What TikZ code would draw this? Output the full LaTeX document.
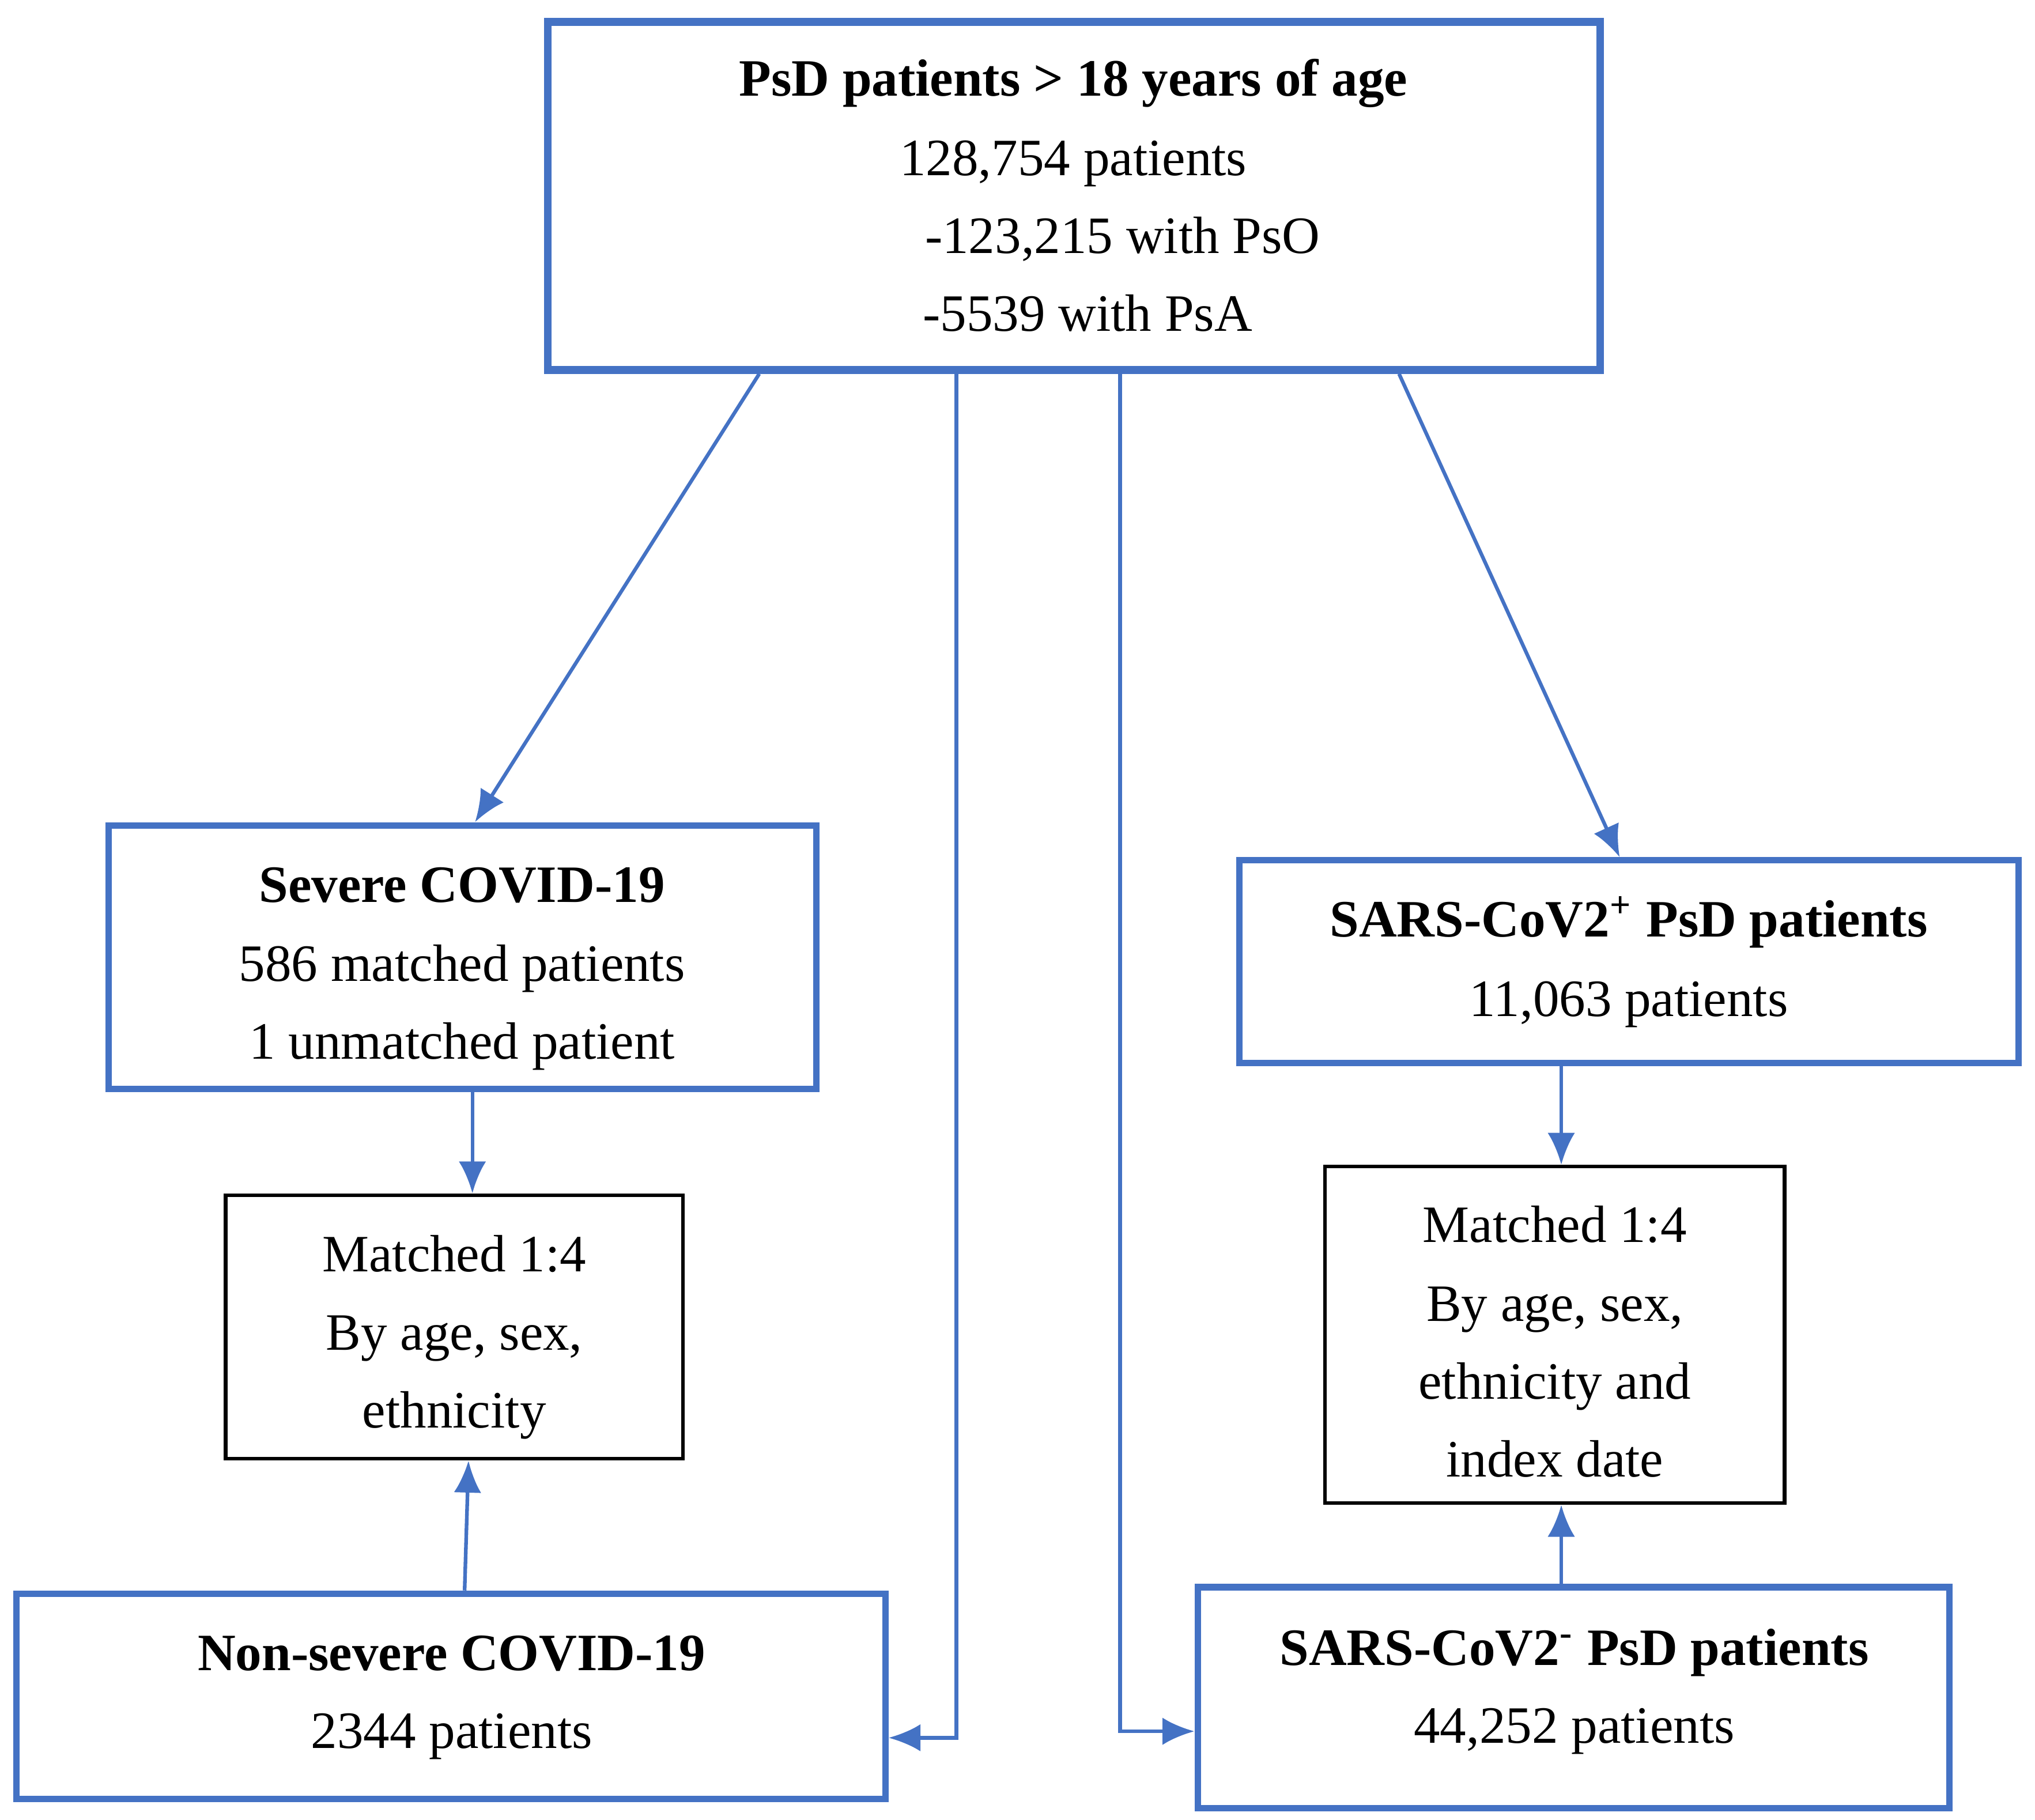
\documentclass[tikz,border=0pt]{standalone}
\usepackage{fontspec}
\setmainfont{Liberation Serif}
\usetikzlibrary{arrows.meta}
\definecolor{bl}{HTML}{4472C4}
\begin{document}
\begin{tikzpicture}[x=0.01cm,y=-0.01cm,
  bbox/.style={draw=bl,line width=1.4pt,inner sep=0pt},
  kbox/.style={draw=black,line width=0.8pt,inner sep=0pt},
  t/.style={font=\fontsize{11.5}{14}\selectfont,inner sep=0pt,anchor=base},
  arr/.style={draw=bl,line width=0.8pt,-{Latex[length=7pt,width=6pt]}}]
\useasboundingbox (0,0) rectangle (1568,1402);
\node[bbox,line width=1.7pt,minimum width=811\pgflinewidth/\pgflinewidth*0.01cm,minimum height=2.68cm] (top) at (827.5,151) {};
\node[bbox,minimum width=5.45cm,minimum height=2.03cm] (sev) at (356.5,737.5) {};
\node[kbox,minimum width=3.52cm,minimum height=2.03cm] (ml) at (350,1022.5) {};
\node[bbox,minimum width=6.69cm,minimum height=1.58cm] (ns) at (347.5,1307) {};
\node[bbox,minimum width=6.00cm,minimum height=1.56cm] (sp) at (1255,741) {};
\node[kbox,minimum width=3.54cm,minimum height=2.59cm] (mr) at (1198,1028.5) {};
\node[bbox,minimum width=5.79cm,minimum height=1.70cm] (sn) at (1212.5,1308) {};
% texts
\node[t] (t1) at (827,74) {\textbf{PsD patients > 18 years of age}};
\node[t] (t2) at (827,135) {128,754 patients};
\node[t] (t3) at (865,195) {-123,215 with PsO};
\node[t] (t4) at (838,255) {-5539 with PsA};
\node[t] (s1) at (356,695) {\textbf{Severe COVID-19}};
\node[t] (s2) at (356,756) {586 matched patients};
\node[t] (s3) at (356,816) {1 unmatched patient};
\node[t] (l1) at (350,980) {Matched 1:4};
\node[t] (l2) at (350,1040) {By age, sex,};
\node[t] (l3) at (350,1100) {ethnicity};
\node[t] (n1) at (348,1287) {\textbf{Non-severe COVID-19}};
\node[t] (n2) at (348,1347) {2344 patients};
\node[t] (p1) at (1255,722) {\textbf{SARS-CoV2\textsuperscript{+} PsD patients}};
\node[t] (p2) at (1255,783) {11,063 patients};
\node[t] (r1) at (1198,957) {Matched 1:4};
\node[t] (r2) at (1198,1018) {By age, sex,};
\node[t] (r3) at (1198,1078) {ethnicity and};
\node[t] (r4) at (1198,1138) {index date};
\node[t] (q1) at (1213,1283) {\textbf{SARS-CoV2\textsuperscript{-} PsD patients}};
\node[t] (q2) at (1213,1343) {44,252 patients};
% connectors
\draw[arr] (top.south -| 585,0) -- (sev.north -| 366,0);
\draw[arr] (top.south -| 1078,0) -- (sp.north -| 1248,0);
\draw[arr] (top.south -| 737,0) -- (737,1339) -- (ns.east |- 0,1339);
\draw[arr] (top.south -| 863,0) -- (863,1334) -- (sn.west |- 0,1334);
\draw[arr] (sev.south -| 364,0) -- (ml.north -| 364,0);
\draw[arr] (ns.north -| 358,0) -- (ml.south -| 361,0);
\draw[arr] (sp.south -| 1203,0) -- (mr.north -| 1203,0);
\draw[arr] (sn.north -| 1203,0) -- (mr.south -| 1203,0);
\end{tikzpicture}
\end{document}
